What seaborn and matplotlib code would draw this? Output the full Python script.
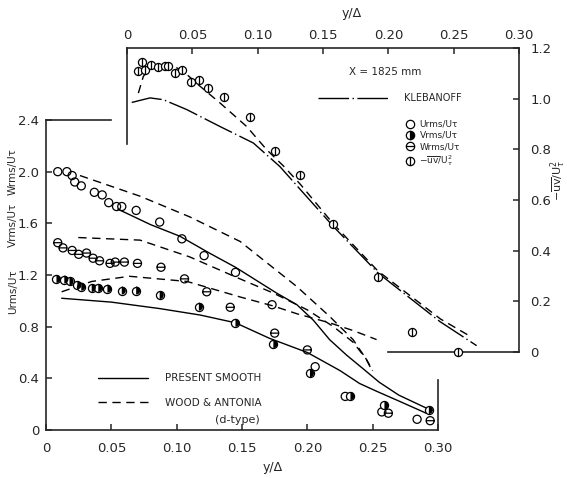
import numpy as np
import pandas as pd
import matplotlib
matplotlib.use("Agg")
import matplotlib.pyplot as plt
import seaborn as sns
from matplotlib.path import Path
from matplotlib.markers import MarkerStyle
from matplotlib.lines import Line2D

# ---------------- data ----------------
# main axes : y/Delta  vs  rms / U_tau
u_x = [0.009, 0.016, 0.020, 0.022, 0.027, 0.037, 0.043, 0.048, 0.054, 0.058, 0.069,
       0.087, 0.104, 0.121, 0.145, 0.173, 0.206, 0.229, 0.257, 0.284]
u_y = [2.00, 2.00, 1.97, 1.92, 1.89, 1.84, 1.82, 1.76, 1.73, 1.73, 1.70,
       1.61, 1.48, 1.35, 1.22, 0.97, 0.49, 0.26, 0.14, 0.083]

v_x = [0.008, 0.014, 0.018, 0.024, 0.027, 0.035, 0.040, 0.047, 0.058, 0.069, 0.087,
       0.117, 0.145, 0.174, 0.202, 0.233, 0.259, 0.293]
v_y = [1.17, 1.165, 1.15, 1.12, 1.11, 1.10, 1.10, 1.095, 1.08, 1.08, 1.045,
       0.955, 0.83, 0.665, 0.44, 0.263, 0.19, 0.155]

w_x = [0.009, 0.013, 0.020, 0.025, 0.031, 0.036, 0.041, 0.049, 0.053, 0.060, 0.070,
       0.088, 0.106, 0.123, 0.141, 0.175, 0.200, 0.262, 0.294]
w_y = [1.45, 1.41, 1.39, 1.36, 1.37, 1.33, 1.31, 1.29, 1.30, 1.30, 1.29,
       1.26, 1.17, 1.07, 0.95, 0.75, 0.62, 0.13, 0.072]

# present smooth wall (solid)
u_smooth_x = [0.055, 0.08, 0.1025, 0.125, 0.145, 0.1765, 0.192, 0.2046, 0.217, 0.230, 0.242, 0.255, 0.270, 0.291]
u_smooth_y = [1.71, 1.59, 1.50, 1.37, 1.26, 1.06, 0.97, 0.85, 0.70, 0.58, 0.48, 0.37, 0.27, 0.17]
v_smooth_x = [0.012, 0.05, 0.087, 0.118, 0.145, 0.171, 0.200, 0.225, 0.240, 0.253, 0.271, 0.291]
v_smooth_y = [1.02, 0.99, 0.94, 0.89, 0.83, 0.71, 0.60, 0.46, 0.36, 0.30, 0.22, 0.13]

# Wood & Antonia, d-type (dashed)
u_wa_x = [0.026, 0.072, 0.110, 0.1485, 0.192, 0.217, 0.235, 0.245, 0.250]
u_wa_y = [1.97, 1.81, 1.65, 1.46, 1.11, 0.88, 0.70, 0.55, 0.45]
w_wa_x = [0.0247, 0.072, 0.110, 0.1485, 0.174, 0.200, 0.220, 0.235, 0.245, 0.250]
w_wa_y = [1.49, 1.47, 1.34, 1.17, 1.06, 0.93, 0.80, 0.68, 0.55, 0.46]
v_wa_x = [0.012, 0.035, 0.064, 0.108, 0.1485, 0.174, 0.192, 0.217, 0.235, 0.253]
v_wa_y = [1.07, 1.15, 1.19, 1.15, 1.03, 0.96, 0.90, 0.83, 0.77, 0.70]

# inset : -uv / U_tau^2
uv_x = [0.0087, 0.0112, 0.0138, 0.018, 0.024, 0.029, 0.0316, 0.0367, 0.0418, 0.0487,
        0.0553, 0.0622, 0.0742, 0.094, 0.1133, 0.1324, 0.1574, 0.1918, 0.2179, 0.2536]
uv_y = [1.108, 1.143, 1.112, 1.134, 1.125, 1.13, 1.13, 1.10, 1.115, 1.066,
        1.072, 1.042, 1.007, 0.926, 0.792, 0.70, 0.506, 0.298, 0.080, 0.0]

kleb_x = [0.0036, 0.0176, 0.0278, 0.0457, 0.0712, 0.0967, 0.117, 0.132, 0.158, 0.1923, 0.2395, 0.2676]
kleb_y = [0.985, 1.003, 0.996, 0.957, 0.89, 0.825, 0.732, 0.645, 0.495, 0.311, 0.12, 0.025]

uv_wa_x = [0.0087, 0.0125, 0.0176, 0.025, 0.035, 0.0431, 0.0559, 0.0712, 0.0916, 0.107,
           0.1196, 0.133, 0.158, 0.192, 0.24, 0.261]
uv_wa_y = [1.022, 1.088, 1.121, 1.135, 1.13, 1.108, 1.049, 0.983, 0.89, 0.798,
           0.735, 0.66, 0.505, 0.32, 0.13, 0.067]

main_xticks = [0, 0.05, 0.10, 0.15, 0.20, 0.25, 0.30]
main_xlabels = ["0", "0.05", "0.10", "0.15", "0.20", "0.25", "0.30"]
main_yticks = [0, 0.4, 0.8, 1.2, 1.6, 2.0, 2.4]
main_ylabels = ["0", "0.4", "0.8", "1.2", "1.6", "2.0", "2.4"]
ins_yticks = [0, 0.2, 0.4, 0.6, 0.8, 1.0, 1.2]
ins_ylabels = ["0", "0.2", "0.4", "0.6", "0.8", "1.0", "1.2"]

# ---------------- style ----------------
sns.set_style("ticks")
plt.rcParams["font.family"] = ["DejaVu Sans"]
plt.rcParams["axes.linewidth"] = 1.2

fig = plt.figure(figsize=(5.67, 4.78), dpi=100)
ax = fig.add_axes([46 / 567, 48 / 478, 392 / 567, 310 / 478])
ax2 = fig.add_axes([127 / 567, 126 / 478, 392 / 567, 304 / 478])
ax2.patch.set_alpha(0)
ax.patch.set_alpha(0)

circ = Path.unit_circle()
w_marker = Path.make_compound_path(circ, Path([[-1, 0], [1, 0]], [Path.MOVETO, Path.LINETO]))
uv_marker = Path.make_compound_path(circ, Path([[0, -1], [0, 1]], [Path.MOVETO, Path.LINETO]))
half_marker = MarkerStyle("o", fillstyle="right")

S = 34
LWM = 0.9
dash = (0, (6, 4))
dashdot = (0, (22, 2.5, 1, 2.5))


def line(axis, x, y, ls):
    sns.lineplot(x=x, y=y, ax=axis, color="black", lw=1.0, linestyle=ls,
                 sort=False, estimator=None)


# main curves
line(ax, u_smooth_x, u_smooth_y, "-")
line(ax, v_smooth_x, v_smooth_y, "-")
line(ax, u_wa_x, u_wa_y, dash)
line(ax, w_wa_x, w_wa_y, dash)
line(ax, v_wa_x, v_wa_y, dash)

# main markers
sns.scatterplot(x=u_x, y=u_y, ax=ax, marker="o", s=S, facecolor="none",
                edgecolor="black", linewidth=LWM, zorder=3)
sns.scatterplot(x=w_x, y=w_y, ax=ax, marker=w_marker, s=S, facecolor="none",
                edgecolor="black", linewidth=LWM, zorder=3)
sns.scatterplot(x=v_x, y=v_y, ax=ax, marker="o", s=S, facecolor="white",
                edgecolor="black", linewidth=LWM, zorder=3)
sns.scatterplot(x=v_x, y=v_y, ax=ax, marker=half_marker, s=S, color="black",
                edgecolor="none", linewidth=0, zorder=4)

# inset curves + markers
line(ax2, kleb_x, kleb_y, dashdot)
line(ax2, uv_wa_x, uv_wa_y, dash)
sns.scatterplot(x=uv_x, y=uv_y, ax=ax2, marker=uv_marker, s=S, facecolor="white",
                edgecolor="black", linewidth=LWM, zorder=3, clip_on=False)

# ---------------- main axes formatting ----------------
ax.set_xlim(0, 0.30)
ax.set_ylim(0, 2.4)
ax.set_xticks(main_xticks, main_xlabels)
ax.set_yticks(main_yticks, main_ylabels)
ax.tick_params(direction="in", length=4, width=1.1, labelsize=9.5, top=False, right=False)
ax.tick_params(axis="x", pad=9)
ax.tick_params(axis="y", pad=5)
ax.spines["top"].set_bounds(0, 0.05)
ax.spines["right"].set_bounds(0, 0.39)
ax.set_xlabel("")
ax.set_ylabel("")

# ---------------- inset formatting ----------------
ax2.set_xlim(0, 0.30)
ax2.set_ylim(0, 1.2)
ax2.xaxis.tick_top()
ax2.yaxis.tick_right()
ax2.set_xticks(main_xticks, main_xlabels)
ax2.set_yticks(ins_yticks, ins_ylabels)
ax2.tick_params(direction="in", length=4, width=1.1, labelsize=9.5,
                bottom=False, left=False, labelbottom=False, labelleft=False)
ax2.tick_params(axis="x", pad=4)
ax2.tick_params(axis="y", pad=8)
ax2.spines["left"].set_bounds(0.82, 1.2)
ax2.spines["bottom"].set_bounds(0.20, 0.30)
ax2.set_xlabel("")
ax2.set_ylabel("")

# ---------------- legends ----------------
h_main = [Line2D([], [], color="black", lw=1.0, linestyle="-"),
          Line2D([], [], color="black", lw=1.0, linestyle=dash)]
leg1 = fig.legend(h_main, ["PRESENT SMOOTH", "WOOD & ANTONIA"], loc="center left",
                  bbox_to_anchor=(98 / 567, 1 - 390.5 / 478), frameon=False,
                  fontsize=7.5, handlelength=4.8, handletextpad=1.6, labelspacing=1.4,
                  borderpad=0, borderaxespad=0)
fig.text(237 / 567, 1 - 420 / 478, "(d-type)", fontsize=8, ha="center", va="center")

h_kleb = [Line2D([], [], color="black", lw=1.0, linestyle=dashdot)]
fig.legend(h_kleb, ["KLEBANOFF"], loc="center left",
           bbox_to_anchor=(318 / 567, 1 - 98 / 478), frameon=False, fontsize=7,
           handlelength=7.2, handletextpad=1.6, borderpad=0, borderaxespad=0)

mk = dict(color="black", linestyle="", markersize=6, markeredgewidth=0.9)
h_marks = [Line2D([], [], marker="o", markerfacecolor="none", **mk),
           Line2D([], [], marker="o", fillstyle="right", markerfacecolor="black",
                  markerfacecoloralt="white", **mk),
           Line2D([], [], marker=w_marker, markerfacecolor="none", **mk),
           Line2D([], [], marker=uv_marker, markerfacecolor="none", **mk)]
fig.legend(h_marks, ["Urms/Uτ", "Vrms/Uτ", "Wrms/Uτ",
                     r"$-\overline{\mathrm{uv}}/\mathrm{U}_{\tau}^{2}$"],
           loc="center left", bbox_to_anchor=(405 / 567, 1 - 144 / 478), frameon=False,
           fontsize=6.5, handlelength=1.0, handletextpad=0.6, labelspacing=0.25,
           borderpad=0, borderaxespad=0)

# ---------------- texts ----------------
fig.text(385 / 567, 1 - 72 / 478, "X = 1825 mm", fontsize=7.5, ha="center", va="center")
fig.text(273 / 567, 1 - 467 / 478, "y/Δ", fontsize=9, ha="center", va="center")
fig.text(352 / 567, 1 - 14 / 478, "y/Δ", fontsize=9, ha="center", va="center")
fig.text(13 / 567, 1 - 172 / 478, "Wrms/Uτ", fontsize=7.5, rotation=90, ha="center", va="center")
fig.text(13 / 567, 1 - 225 / 478, "Vrms/Uτ", fontsize=7.5, rotation=90, ha="center", va="center")
fig.text(13 / 567, 1 - 292 / 478, "Urms/Uτ", fontsize=7.5, rotation=90, ha="center", va="center")
fig.text(558 / 567, 1 - 180 / 478, r"$-\overline{\mathrm{uv}}/\mathrm{U}_{\tau}^{2}$",
         fontsize=8, rotation=90, ha="center", va="center")

fig.savefig("out.png", dpi=100)
